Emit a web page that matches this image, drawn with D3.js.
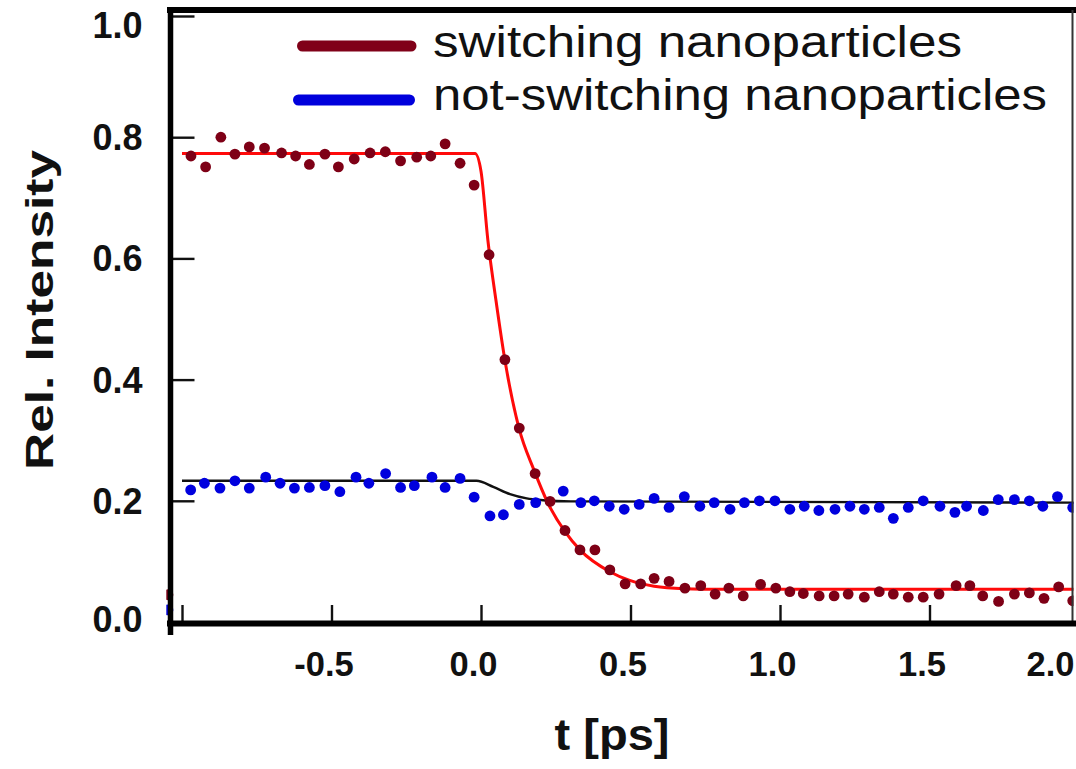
<!DOCTYPE html>
<html>
<head>
<meta charset="utf-8">
<script src="https://cdn.jsdelivr.net/npm/d3@7"></script>
<style>
  html, body { margin: 0; padding: 0; background: #ffffff; }
  svg { display: block; font-family: "Liberation Sans", Arial, sans-serif; }
</style>
</head>
<body>
<svg id="chart" width="1076" height="769"></svg>
<script>
// Pump-probe traces: relative intensity vs delay time
const seriesNames = ["switching nanoparticles", "not-switching nanoparticles"];

// switching nanoparticles: measured points
const timeSwitching = [-1.047, -0.970, -0.921, -0.870, -0.823, -0.775, -0.724, -0.667, -0.620, -0.574, -0.522,
  -0.477, -0.424, -0.371, -0.320, -0.269, -0.215, -0.168, -0.120, -0.070, -0.023,
  0.027, 0.080, 0.128, 0.181, 0.231, 0.281, 0.331, 0.381, 0.431, 0.482, 0.534, 0.579,
  0.629, 0.682, 0.735, 0.783, 0.829, 0.877, 0.935, 0.986, 1.033, 1.078, 1.131, 1.181,
  1.228, 1.282, 1.332, 1.379, 1.429, 1.479, 1.532, 1.589, 1.635, 1.678, 1.731, 1.784,
  1.834, 1.883, 1.932, 1.979];
const relSwitching = [0.045, 0.769, 0.751, 0.800, 0.772, 0.784, 0.782, 0.774, 0.769, 0.755, 0.772,
  0.751, 0.764, 0.774, 0.776, 0.761, 0.767, 0.769, 0.789, 0.757, 0.721,
  0.606, 0.433, 0.320, 0.245, 0.199, 0.151, 0.119, 0.119, 0.086, 0.063, 0.063, 0.072,
  0.067, 0.056, 0.060, 0.046, 0.056, 0.043, 0.062, 0.056, 0.050, 0.047, 0.043, 0.043,
  0.046, 0.041, 0.050, 0.046, 0.041, 0.041, 0.046, 0.060, 0.060, 0.043, 0.034, 0.046,
  0.048, 0.039, 0.058, 0.035];

// not-switching nanoparticles: measured points
const timeStatic = [-1.047, -0.971, -0.925, -0.873, -0.823, -0.775, -0.720, -0.672, -0.624, -0.574, -0.522,
  -0.472, -0.418, -0.375, -0.319, -0.269, -0.223, -0.164, -0.120, -0.070, -0.023,
  0.030, 0.075, 0.128, 0.183, 0.275, 0.334, 0.379, 0.429, 0.479, 0.529, 0.579, 0.629,
  0.680, 0.732, 0.780, 0.833, 0.881, 0.931, 0.983, 1.033, 1.081, 1.130, 1.184, 1.234,
  1.282, 1.332, 1.379, 1.429, 1.479, 1.535, 1.585, 1.624, 1.680, 1.730, 1.784, 1.834,
  1.879, 1.928, 1.979];
const relStatic = [0.020, 0.218, 0.229, 0.221, 0.233, 0.221, 0.239, 0.229, 0.221, 0.222, 0.225,
  0.215, 0.239, 0.229, 0.245, 0.222, 0.225, 0.239, 0.222, 0.237, 0.206,
  0.175, 0.177, 0.194, 0.197, 0.216, 0.197, 0.200, 0.191, 0.186, 0.194, 0.204, 0.189,
  0.207, 0.191, 0.197, 0.186, 0.197, 0.200, 0.200, 0.186, 0.191, 0.184, 0.186, 0.191,
  0.186, 0.189, 0.171, 0.189, 0.200, 0.191, 0.181, 0.191, 0.184, 0.202, 0.202, 0.200,
  0.191, 0.207, 0.189];

// fitted curves
const fitTimeSwitching = [-1.0, -0.02, 0.0, 0.023, 0.05, 0.08, 0.127, 0.177, 0.224, 0.281, 0.331, 0.431, 0.495, 0.579, 0.679, 0.8, 2.0];
const fitSwitching     = [0.773, 0.773, 0.744, 0.630, 0.531, 0.432, 0.320, 0.251, 0.196, 0.149, 0.119, 0.083, 0.069, 0.059, 0.055, 0.054, 0.054];
const fitTimeStatic = [-1.0, -0.015, 0.041, 0.097, 0.153, 0.208, 0.3, 2.0];
const fitStatic     = [0.233, 0.233, 0.223, 0.211, 0.204, 0.201, 0.199, 0.197];

// axes
const xTickValues = [-1.0, -0.5, 0.0, 0.5, 1.0, 1.5, 2.0];
const xTickLabels = ["", "-0.5", "0.0", "0.5", "1.0", "1.5", "2.0"];
const yTickValues = [0.0, 0.2, 0.4, 0.6, 0.8, 1.0];
const yTickLabels = ["0.0", "0.2", "0.4", "0.6", "0.8", "1.0"];
const xTitle = "t [ps]";
const yTitle = "Rel. Intensity";

const colors = {
  switchDots: "#7e0016",
  switchFit: "#ff0a0a",
  staticDots: "#0000de",
  staticFit: "#111111",
  legendSwitch: "#800018",
  legendStatic: "#0000dc"
};

const svg = d3.select("#chart");

const x = d3.scaleLinear().domain([-1, 2]).range([182, 1079]);
const y = d3.scaleLinear().domain([0, 1]).range([622, 16]);

// frame geometry
const frame = { left: 170.5, right: 1072.5, top: 10, bottom: 623.5 };

svg.append("defs").append("clipPath").attr("id", "plotClip")
  .append("rect")
  .attr("x", 166.3).attr("y", frame.top)
  .attr("width", frame.right - 166.3 + 1).attr("height", frame.bottom - frame.top);

const plot = svg.append("g").attr("clip-path", "url(#plotClip)");

const line = d3.line()
  .x(d => x(d[0]))
  .y(d => y(d[1]))
  .curve(d3.curveMonotoneX);

const fitS = fitTimeSwitching.map((t, i) => [t, fitSwitching[i]]);
const fitN = fitTimeStatic.map((t, i) => [t, fitStatic[i]]);

plot.append("path").datum(fitN)
  .attr("d", line).attr("fill", "none")
  .attr("stroke", colors.staticFit).attr("stroke-width", 2.4);

plot.append("path").datum(fitS)
  .attr("d", line).attr("fill", "none")
  .attr("stroke", colors.switchFit).attr("stroke-width", 3);

const ptsN = timeStatic.map((t, i) => [t, relStatic[i]]);
const ptsS = timeSwitching.map((t, i) => [t, relSwitching[i]]);

plot.append("g").selectAll("circle").data(ptsN).join("circle")
  .attr("cx", d => x(d[0])).attr("cy", d => y(d[1])).attr("r", 5.4)
  .attr("fill", colors.staticDots);

plot.append("g").selectAll("circle").data(ptsS).join("circle")
  .attr("cx", d => x(d[0])).attr("cy", d => y(d[1])).attr("r", 5.4)
  .attr("fill", colors.switchDots);

// y axis ticks (inward) and labels
const yAxis = d3.axisLeft(y)
  .tickValues(yTickValues)
  .tickSize(-24)
  .tickPadding(28)
  .tickFormat((d, i) => yTickLabels[i]);

const gy = svg.append("g").attr("transform", `translate(${frame.left},0)`).call(yAxis);
gy.select(".domain").remove();
gy.selectAll(".tick line").attr("stroke", "#111").attr("stroke-width", 2.4);
gy.selectAll(".tick text")
  .attr("fill", "#111")
  .style("font-size", "36px").style("font-weight", "bold")
  .attr("dy", null)
  .attr("y", d => d === 1.0 ? 21 : (d === 0 ? 9 : 12.5));

// x axis ticks (inward) and labels
const xAxis = d3.axisBottom(x)
  .tickValues(xTickValues)
  .tickSize(-18)
  .tickFormat((d, i) => xTickLabels[i]);

const gx = svg.append("g").attr("transform", `translate(0,${frame.bottom - 0.5})`).call(xAxis);
gx.select(".domain").remove();
gx.selectAll(".tick line").attr("stroke", "#111").attr("stroke-width", 2.4);
gx.selectAll(".tick text")
  .attr("fill", "#111")
  .style("font-size", "34.5px").style("font-weight", "bold")
  .attr("dy", null)
  .attr("y", 53)
  .attr("x", d => d === 2 ? -6 : -8)
  .attr("text-anchor", d => d === 2 ? "end" : "middle");
// keep the last label inside the frame
gx.selectAll(".tick").filter(d => d === 2)
  .attr("transform", `translate(${frame.right + 8},0)`);

// frame
const frameG = svg.append("g").attr("stroke", "#000").attr("fill", "none");
frameG.append("line").attr("x1", 167).attr("x2", 1076).attr("y1", frame.top).attr("y2", frame.top).attr("stroke-width", 6);
frameG.append("line").attr("x1", frame.right).attr("x2", frame.right).attr("y1", frame.top).attr("y2", frame.bottom).attr("stroke-width", 2).attr("stroke", "#333");
frameG.append("line").attr("x1", 167).attr("x2", 1076).attr("y1", frame.bottom).attr("y2", frame.bottom).attr("stroke-width", 6);
frameG.append("line").attr("x1", frame.left).attr("x2", frame.left).attr("y1", 7).attr("y2", 635).attr("stroke-width", 5.5);

// axis titles
svg.append("text")
  .attr("x", 612).attr("y", 750)
  .attr("text-anchor", "middle")
  .attr("textLength", 115).attr("lengthAdjust", "spacingAndGlyphs")
  .style("font-size", "44px").style("font-weight", "bold").attr("fill", "#111")
  .text(xTitle);

svg.append("text")
  .attr("transform", "translate(53,310) rotate(-90)")
  .attr("text-anchor", "middle")
  .attr("textLength", 320).attr("lengthAdjust", "spacingAndGlyphs")
  .style("font-size", "39px").style("font-weight", "bold").attr("fill", "#111")
  .text(yTitle);

// legend
const legend = svg.append("g");
const legendRows = [
  { name: seriesNames[0], color: colors.legendSwitch, x1: 302.5, x2: 411, ly: 46, ty: 57, len: 529 },
  { name: seriesNames[1], color: colors.legendStatic, x1: 298.5, x2: 409.5, ly: 100, ty: 110, len: 614 }
];
legendRows.forEach(r => {
  legend.append("line")
    .attr("x1", r.x1).attr("x2", r.x2).attr("y1", r.ly).attr("y2", r.ly)
    .attr("stroke", r.color).attr("stroke-width", 11).attr("stroke-linecap", "round");
  legend.append("text")
    .attr("x", 433).attr("y", r.ty)
    .attr("textLength", r.len).attr("lengthAdjust", "spacingAndGlyphs")
    .style("font-size", "44px").attr("fill", "#111")
    .text(r.name);
});
</script>
</body>
</html>
